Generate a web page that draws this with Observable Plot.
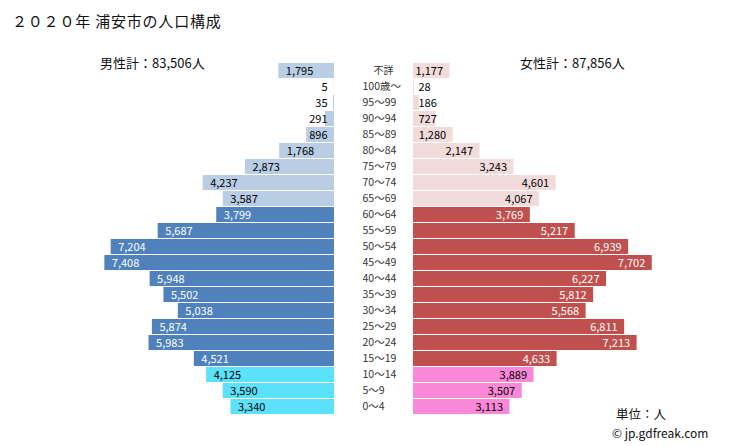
<!DOCTYPE html>
<html><head><meta charset="utf-8">
<script src="https://cdn.jsdelivr.net/npm/d3@7"></script>
<script src="https://cdn.jsdelivr.net/npm/@observablehq/plot@0.6"></script>
<style>
body{margin:0;background:#fff;font-family:"Noto Sans CJK JP",sans-serif;}
#wrap{position:relative;width:729px;height:446px;overflow:hidden;}
.p{position:absolute;top:0;}
.t{position:absolute;line-height:1;white-space:nowrap;color:#111;}
</style></head>
<body>
<div id="wrap">
  <div id="m" class="p" style="left:0"></div>
  <div id="f" class="p" style="left:345px"></div>
  <div class="t" style="left:12px;top:13px;font-size:15px;letter-spacing:0.8px">２０２０年 浦安市の人口構成</div>
  <div class="t" id="mt" style="left:100px;top:56px;font-size:13px"></div>
  <div class="t" id="ft" style="left:520px;top:56px;font-size:13px"></div>
  <div class="t" style="left:616px;top:408px;font-size:12.5px">単位：人</div>
  <div class="t" style="left:612px;top:427px;font-size:12px">© jp.gdfreak.com</div>
</div>
<script>
const ages = ["不詳","100歳～","95～99","90～94","85～89","80～84","75～79","70～74","65～69","60～64","55～59","50～54","45～49","40～44","35～39","30～34","25～29","20～24","15～19","10～14","5～9","0～4"];
const male = [1795,5,35,291,896,1768,2873,4237,3587,3799,5687,7204,7408,5948,5502,5038,5874,5983,4521,4125,3590,3340];
const female = [1177,28,186,727,1280,2147,3243,4601,4067,3769,5217,6939,7702,6227,5812,5568,6811,7213,4633,3889,3507,3113];
const groups = ["old","old","old","old","old","old","old","old","old","work","work","work","work","work","work","work","work","work","work","young","young","young"];
const maleTotal = "男性計：83,506人";
const femaleTotal = "女性計：87,856人";

const maleColors = {old:"#B9CDE5", work:"#4F81BD", young:"#5CE1FA"};
const femaleColors = {old:"#F2DCDB", work:"#C0504D", young:"#FA88D8"};
const textColors = {old:"#000", work:"#fff", young:"#000"};

document.getElementById("mt").textContent = maleTotal;
document.getElementById("ft").textContent = femaleTotal;

const rows = ages.map((a,i)=>({age:a, m:male[i], f:female[i], g:groups[i]}));
const fmt = d3.format(",");
const FONT = "Noto Sans CJK JP";
const yOpts = {domain: ages, padding: 0.08, axis: null};
const common = {height: 446, marginTop: 60, marginBottom: 30, style:{fontFamily:FONT, background:"transparent", overflow:"visible"}};

const mp = Plot.plot({
  ...common, width: 345, marginLeft: 86, marginRight: 11,
  x: {domain:[0,8000], reverse:true, axis:null},
  y: yOpts,
  marks: [
    Plot.barX(rows, {x:"m", y:"age", fill:d=>maleColors[d.g]}),
    Plot.text(rows.filter(d=>d.m>=1000), {x:"m", y:"age", text:d=>fmt(d.m), textAnchor:"start", dx:7, fill:d=>textColors[d.g], fontSize:11}),
    Plot.text(rows.filter(d=>d.m<1000), {x:0, y:"age", text:d=>fmt(d.m), textAnchor:"end", dx:-7, fill:"#000", fontSize:11})
  ]
});
document.getElementById("m").appendChild(mp);

const fp = Plot.plot({
  ...common, width: 384, marginLeft: 68, marginRight: 68,
  x: {domain:[0,8000], axis:null},
  y: yOpts,
  marks: [
    Plot.barX(rows, {x:"f", y:"age", fill:d=>femaleColors[d.g]}),
    Plot.text(rows.filter(d=>d.f>=1000), {x:"f", y:"age", text:d=>fmt(d.f), textAnchor:"end", dx:-7, fill:d=>textColors[d.g], fontSize:11}),
    Plot.text(rows.filter(d=>d.f<1000), {x:0, y:"age", text:d=>fmt(d.f), textAnchor:"start", dx:5, fill:"#000", fontSize:11}),
    Plot.text(rows.filter(d=>d.age!=="不詳"), {x:0, y:"age", text:"age", textAnchor:"start", dx:-51, fill:"#333", fontSize:10.5}),
    Plot.text(rows.filter(d=>d.age==="不詳"), {x:0, y:"age", text:"age", textAnchor:"start", dx:-40, fill:"#333", fontSize:10})
  ]
});
document.getElementById("f").appendChild(fp);
</script>
</body></html>
